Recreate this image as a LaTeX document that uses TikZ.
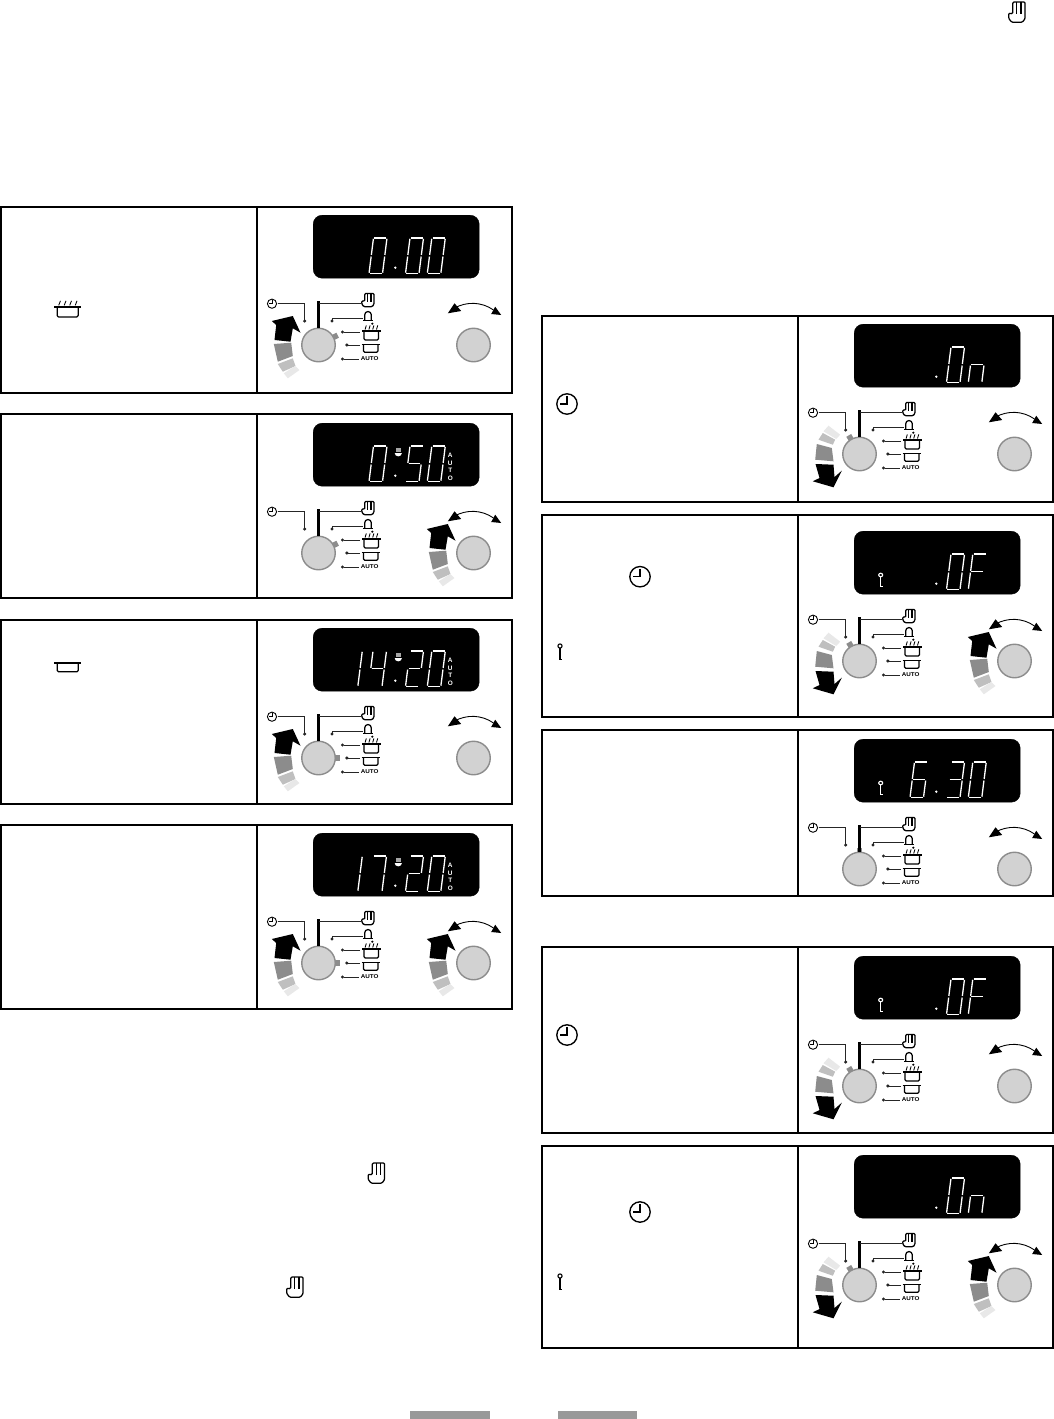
\documentclass[tikz,border=0pt]{standalone}
\usepackage{fontspec}
\setmainfont{Liberation Sans}
\usetikzlibrary{arrows.meta}
\definecolor{knobfill}{HTML}{D2D2D2}
\definecolor{knobedge}{HTML}{8C8C8C}
\definecolor{barG}{HTML}{999999}
\tikzset{
  boxline/.style={line width=2pt,draw=black},
  seg/.style={draw=white,line width=1.3pt,shorten >=.8pt,shorten <=.8pt},
  dispbox/.style={fill=black,draw=black,rounded corners=9pt,minimum width=166pt,minimum height=63pt,inner sep=0pt,anchor=north west},
  knob/.style={circle,fill=knobfill,draw=knobedge,line width=1.4pt,minimum size=33.5pt,inner sep=0pt},
  conn/.style={line width=1pt,draw=black!85},
  connd/.style={conn,-{Circle[length=3pt,width=3pt]}},
  iconl/.style={line width=1.25pt,line join=round},
  autotxt/.style={font=\fontsize{5.6pt}{6pt}\selectfont\bfseries,inner sep=0pt,text=black},
  dispauto/.style={font=\fontsize{6.4pt}{7.6pt}\selectfont\bfseries,inner sep=0pt,text=white,align=center},
  handicon/.pic={
    \draw[iconl,rounded corners=1.1pt] (-3.2,1.2)--(-3.2,-6.6)--(6,-6.6)--(6,4.4)--(4,6.8)--(-4,6.8)--(-6.2,4.2)--(-6.2,.8)--cycle;
    \draw[iconl] (-.2,-6.6)--(-.2,1.6) (2.9,-6.6)--(2.9,1.6);
  },
  bellicon/.pic={
    \draw[iconl] (-3.3,4.4)--(-3.3,-1.2) arc[start angle=180,end angle=360,radius=3.3]--(3.3,4.4);
    \draw[iconl] (-4.6,4.4)--(4.6,4.4);
  },
  potbody/.pic={
    \draw[iconl,rounded corners=1.2pt] (-7.2,0)--(-7.2,8)--(7.2,8)--(7.2,0);
    \draw[iconl] (-9.2,0)--(9.2,0);
  },
  grillicon/.pic={
    \draw[iconl,rounded corners=1.2pt] (-7.2,0)--(-7.2,9)--(7.2,9)--(7.2,0);
    \draw[iconl] (-9.2,0)--(9.2,0);
    \draw[line width=.85pt] (-6.2,-1.5)--(-5,-5.6) (-2.4,-1.5)--(-1.2,-5.6) (1.4,-1.5)--(2.6,-5.6) (5.2,-1.5)--(6.4,-5.6);
  },
  clockicon/.pic={
    \draw[line width=.9pt] (0,0) circle[radius=4.6];
    \draw[line width=.9pt] (0,-3.4)--(0,0)--(-3,0);
  },
  bigclock/.pic={
    \draw[line width=1.35pt] (0,0) circle[radius=10.2];
    \draw[line width=1.5pt] (0,-8)--(0,0)--(-7.5,0);
  },
  keyicon/.pic={
    \draw[line width=1.1pt] (0,0) circle[radius=2.1];
    \draw[line width=1.3pt] (0,2.1)--(0,13.4)--(2.2,13.4);
  },
  selup/.pic={
    \fill[black] (-46.7,-24)--(-25.7,-29)--(-18,-12.3)--(-25.7,-16.7)--(-28,-3.3)--(-44,-5)--(-42.3,-20)--cycle;
    \fill[black!45] (-44.7,-1)--(-27.3,-2.3)--(-25.7,11)--(-40.7,16.7)--cycle;
    \fill[black!25] (-40.7,19)--(-25.7,13.3)--(-23,21)--(-35.7,26.7)--cycle;
    \fill[black!9] (-34.7,28.3)--(-23.3,21)--(-19,25)--(-30.7,33.3)--cycle;
  },
  seldown/.pic={
    \fill[black] (-44,10)--(-26,10.7)--(-25,23)--(-17.7,16.7)--(-26,33.3)--(-46.7,27.3)--(-40,24)--cycle;
    \fill[black!45] (-44.3,5.7)--(-42.7,-10)--(-27.7,-6)--(-26,7.3)--cycle;
    \fill[black!25] (-41,-14.3)--(-36.7,-21)--(-24.3,-14.3)--(-26.7,-9.3)--cycle;
    \fill[black!9] (-36,-22.7)--(-31,-28.3)--(-19.3,-19.3)--(-23.3,-15)--cycle;
  },
  selnone/.pic={},
  swing/.pic={
    \draw[line width=.9pt] (-19,-37) .. controls (-7,-43.5) and (8,-43.5) .. (20,-35);
    \fill[black] (-25.7,-31.7)--(-19,-41.7)--(-12.3,-34)--cycle;
    \fill[black] (27.7,-30)--(21.7,-38.3)--(17.7,-31)--cycle;
  },
  cupmark/.pic={
    \fill[white] (-3.6,-1) arc[start angle=180,end angle=0,x radius=3.6,y radius=3.4]--cycle;
    \fill[white,opacity=.65] (-2.7,-6) rectangle (2.7,-2);
  },
}
\newcommand{\dig}[2]{\begin{scope}[shift={(#1,0)}]
  \coordinate (TL) at (4.5,23);\coordinate (TR) at (18,23);
  \coordinate (ML) at (2.25,40.75);\coordinate (MR) at (15.75,40.75);
  \coordinate (BL) at (0,58.5);\coordinate (BR) at (13.5,58.5);
  \foreach \p/\q in #2 {\draw[seg] (\p)--(\q);}
\end{scope}}
\def\dZero{TL/TR,TR/MR,MR/BR,BR/BL,BL/ML,ML/TL}
\def\dOne{TR/MR,MR/BR}
\def\dTwo{TL/TR,TR/MR,ML/MR,BL/ML,BR/BL}
\def\dThree{TL/TR,TR/MR,ML/MR,MR/BR,BR/BL}
\def\dFour{ML/TL,ML/MR,TR/MR,MR/BR}
\def\dFive{TL/TR,ML/TL,ML/MR,MR/BR,BR/BL}
\def\dSix{TL/TR,ML/TL,ML/MR,BL/ML,MR/BR,BR/BL}
\def\dSeven{TL/TR,TR/MR,MR/BR}
\def\dF{TL/TR,ML/TL,ML/MR,BL/ML}
\def\dn{BL/ML,ML/MR,MR/BR}
\newcommand{\dpoint}{\fill[white] (82.3,52.7) circle[radius=1.3];}
\newcommand{\dmark}{\pic at (85.3,31) {cupmark};\node[dispauto] (dauto) at (137.3,44) {A\\U\\T\\O};}
\newcommand{\dkey}{\pic[color=white,yscale=.85,xscale=.95] at (26.7,44) {keyicon};}
% #1 name, #2,#3 display top-left, #4 pointer angle, #5 left selector, #6 right selector, #7 display content
\newcommand{\ctrl}[7]{\begin{scope}[shift={(#2,#3)},name prefix=#1-]
  \node[dispbox] (disp) at (0,0) {};
  #7
  \coordinate (kl) at (5.5,130);\coordinate (kr) at (160.5,130);
  \begin{scope}[shift={(kl)},rotate=#4]
    \fill[knobedge] (15,-2.8) rectangle (21.5,2.8);
  \end{scope}
  \node[knob] (knobL) at (kl) {};
  \node[knob] (knobR) at (kr) {};
  \draw[line width=2.5pt] (knobL.north)--(5.5,86) coordinate (barT);
  \pic at (kl) {sel#5};
  \pic at (kr) {sel#6};
  \pic at (kr) {swing};
  \pic at (-41,88.7) {clockicon};
  \coordinate (cL) at (-35.5,88.7);\coordinate (cD) at (-8.3,107.5);
  \draw[connd] (cL)-|(cD);
  \pic at (55,85) {handicon};
  \coordinate (hL) at (47.5,88.7);
  \draw[conn] (hL)--(barT|-hL);
  \pic at (55,101) {bellicon};
  \coordinate (bR) at (50,103.7);\coordinate (bD) at (19,107.5);
  \draw[connd] (bR)-|(bD);
  \fill (59.3,108.7) circle[radius=1.2];
  \pic at (58.3,116) {grillicon};
  \coordinate (gR) at (47,117);\coordinate (gL) at (28,117);
  \draw[connd] (gR)--(gL);
  \pic at (57.7,129.3) {potbody};
  \coordinate (pR) at (47,130);\coordinate (pL) at (32.3,130);
  \draw[connd] (pR)--(pL);
  \node[autotxt] (auto) at (56.7,144) {\scalebox{1.12}[1]{AUTO}};
  \coordinate (aL) at (28,144);
  \draw[connd] ([xshift=-2pt]auto.west)--(aL);
\end{scope}}
\begin{document}
\begin{tikzpicture}[x=1pt,y=-1pt]
\useasboundingbox (0,0) rectangle (1054,1419);
\fill[white] (0,0) rectangle (1054,1419);
% frames
\foreach \a/\b in {207/392.5,414/597.5,620/804,825/1008.5}{
  \draw[boxline] (1,\a) rectangle (511.5,\b);
  \draw[boxline] (257,\a)--(257,\b);
}
\foreach \a/\b in {316/501.5,515/716.5,730/895.5,947/1132.5,1146/1347.5}{
  \draw[boxline] (542,\a) rectangle (1052.5,\b);
  \draw[boxline] (798,\a)--(798,\b);
}
% panels left
\ctrl{a}{313}{215}{27}{up}{none}{\dig{56}{\dZero}\dpoint\dig{92.5}{\dZero}\dig{114.3}{\dZero}}
\ctrl{b}{313}{423}{27}{none}{up}{\dig{56}{\dZero}\dpoint\dmark\dig{92.5}{\dFive}\dig{114.3}{\dZero}}
\ctrl{c}{313}{628}{0}{up}{none}{\dig{31.3}{\dOne}\dig{55.5}{\dFour}\dpoint\dmark\dig{92.5}{\dTwo}\dig{114.3}{\dZero}}
\ctrl{d}{313}{833}{0}{up}{up}{\dig{31.3}{\dOne}\dig{55.5}{\dSeven}\dpoint\dmark\dig{92.5}{\dTwo}\dig{114.3}{\dZero}}
% panels right
\ctrl{e}{854}{324}{120}{down}{none}{\dpoint\dig{92.5}{\dZero}\dig{114.3}{\dn}}
\ctrl{f}{854}{531}{120}{down}{up}{\dkey\dpoint\dig{92.5}{\dZero}\dig{114.3}{\dF}}
\ctrl{g}{854}{739}{90}{none}{none}{\dkey\dig{56}{\dSix}\dpoint\dig{92.5}{\dThree}\dig{114.3}{\dZero}}
\ctrl{h}{854}{956}{120}{down}{none}{\dkey\dpoint\dig{92.5}{\dZero}\dig{114.3}{\dF}}
\ctrl{i}{854}{1155}{120}{down}{up}{\dpoint\dig{92.5}{\dZero}\dig{114.3}{\dn}}
% inline icons
\pic[xscale=1.45,yscale=1.1] at (67.7,307) {grillicon};
\pic[xscale=1.45,yscale=1.1] at (67.7,663) {potbody};
\pic at (567,404) {bigclock};
\pic at (640,576.7) {bigclock};
\pic at (567,1035) {bigclock};
\pic at (640,1212) {bigclock};
\pic at (560,646) {keyicon};
\pic at (560,1276) {keyicon};
\pic[xscale=1.35,yscale=1.5] at (1017,12) {handicon};
\pic[xscale=1.35,yscale=1.5] at (376.5,1173) {handicon};
\pic[xscale=1.35,yscale=1.5] at (295,1287) {handicon};
% bottom bars
\fill[barG] (410,1411) rectangle (490,1419);
\fill[barG] (558,1411) rectangle (637,1419);
\end{tikzpicture}
\end{document}
